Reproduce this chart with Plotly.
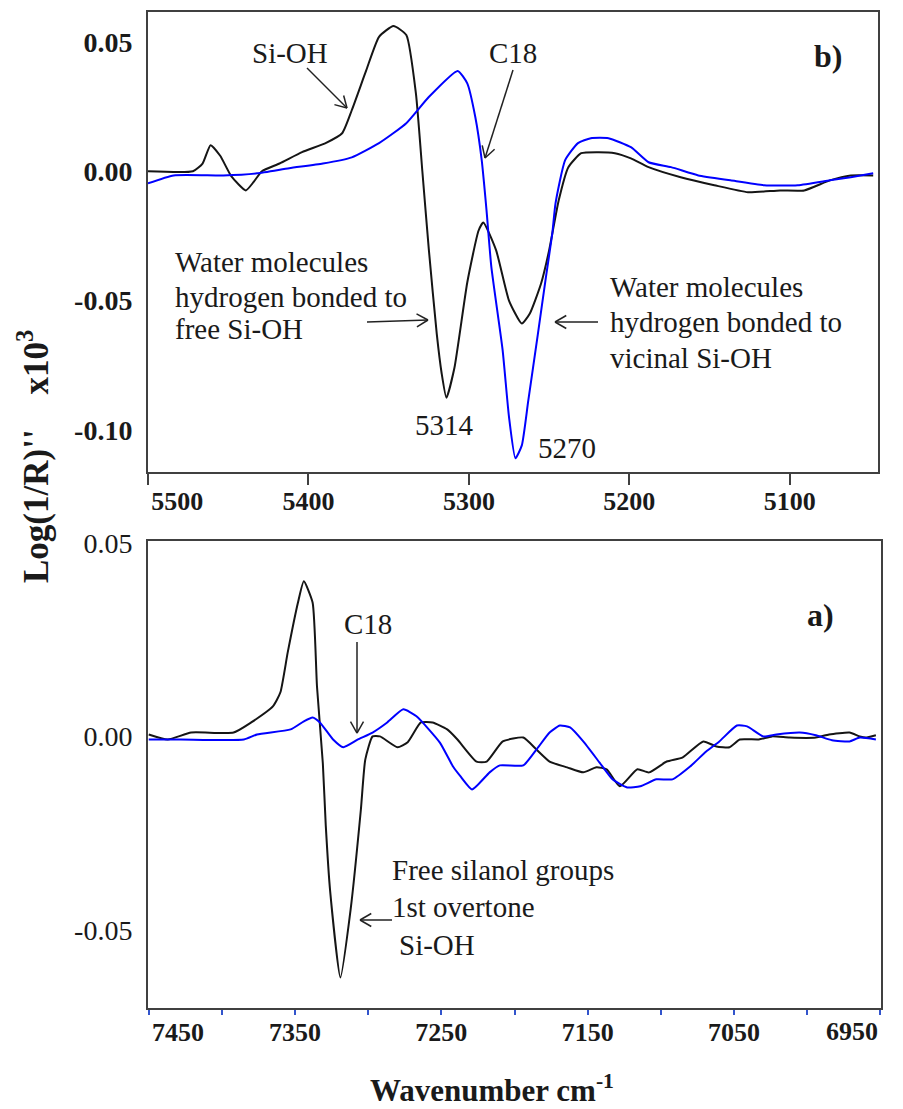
import math
import plotly.graph_objects as go

W, H = 903, 1109

# ---------------- Panel b) (top): 5500-5045 cm-1 ----------------
b_wn_black = [5500, 5472, 5466, 5461, 5455, 5448, 5439, 5434, 5429, 5418, 5404, 5389, 5379,
              5373, 5364, 5356, 5347, 5339, 5333, 5329, 5325, 5320, 5317, 5314, 5309, 5301,
              5294, 5291, 5283, 5275, 5267, 5262, 5255, 5250, 5244, 5238, 5230, 5219, 5209,
              5199, 5188, 5168, 5147, 5126, 5106, 5091, 5075, 5062, 5048]
b_black = [0.000, 0.000, 0.003, 0.0101, 0.006, -0.002, -0.0074, -0.004, 0.000, 0.003, 0.0074,
           0.011, 0.0147, 0.0236, 0.039, 0.052, 0.0562, 0.0527, 0.030, 0.000, -0.030, -0.063,
           -0.078, -0.0876, -0.076, -0.043, -0.023, -0.0198, -0.0306, -0.050, -0.0589, -0.055,
           -0.0434, -0.0306, -0.0112, 0.0016, 0.007, 0.0074, 0.007, 0.005, 0.0016, -0.0023,
           -0.0054, -0.0081, -0.0074, -0.0074, -0.0035, -0.0016, -0.0016]

b_wn_blue = [5500, 5484, 5453, 5432, 5412, 5391, 5373, 5356, 5339, 5325, 5307, 5301, 5296,
             5292, 5289, 5286, 5279, 5275, 5271, 5267, 5263, 5257, 5252, 5248, 5246, 5240,
             5232, 5224, 5213, 5199, 5188, 5174, 5157, 5137, 5116, 5095, 5075, 5062, 5048]
b_blue = [-0.0047, -0.0016, -0.0016, -0.0008, 0.0012, 0.003, 0.0054, 0.0109, 0.0186, 0.0287,
          0.0388, 0.034, 0.021, 0.0043, -0.0151, -0.037, -0.069, -0.095, -0.111, -0.106,
          -0.0888, -0.063, -0.041, -0.024, -0.0124, 0.0043, 0.0109, 0.0128, 0.0128, 0.0093,
          0.0035, 0.0016, -0.0016, -0.0035, -0.0054, -0.0054, -0.0035, -0.0023, -0.0008]

b_xticks = [5500, 5400, 5300, 5200, 5100]
b_xticktext = ["5500", "5400", "5300", "5200", "5100"]
b_yticks = [0.05, 0.0, -0.05, -0.10]
b_yticktext = ["0.05", "0.00", "-0.05", "-0.10"]

# ---------------- Panel a) (bottom): 7450-6950 cm-1 ----------------
a_wn_black = [7450, 7437, 7421, 7392, 7380, 7365, 7360, 7355, 7348, 7344, 7338, 7335, 7331,
              7329, 7326, 7319, 7312, 7305, 7302, 7297, 7292, 7280, 7273, 7264, 7256, 7246,
              7239, 7226, 7219, 7208, 7194, 7185, 7176, 7164, 7153, 7144, 7137, 7128, 7116,
              7108, 7096, 7085, 7071, 7062, 7053, 7046, 7033, 7024, 7012, 6994, 6985, 6971,
              6964, 6960, 6953]
a_black = [0.0005, -0.0008, 0.001, 0.001, 0.0036, 0.0078, 0.0114, 0.0217, 0.0346, 0.0401,
           0.0346, 0.0129, -0.007, -0.023, -0.040, -0.0623, -0.0447, -0.0189, -0.006, 0.000,
           0.000, -0.0028, -0.0015, 0.0036, 0.0036, 0.0018, -0.0008, -0.0065, -0.0065, -0.0013,
           -0.0003, -0.0034, -0.0065, -0.008, -0.0093, -0.008, -0.0085, -0.0129, -0.0085,
           -0.0093, -0.0065, -0.0054, -0.0013, -0.0026, -0.0028, -0.0008, -0.0008, 0.000,
           -0.0003, -0.0003, 0.0005, 0.001, 0.000, -0.0003, 0.0003]

a_wn_blue = [7450, 7428, 7385, 7376, 7353, 7344, 7338, 7333, 7324, 7317, 7307, 7297, 7287,
             7276, 7267, 7251, 7242, 7237, 7229, 7217, 7210, 7194, 7185, 7176, 7169, 7162,
             7153, 7142, 7133, 7123, 7114, 7103, 7092, 7080, 7069, 7060, 7048, 7041, 7030,
             7021, 7005, 6994, 6983, 6971, 6964, 6953]
a_blue = [-0.0008, -0.0008, -0.0008, 0.0005, 0.0018, 0.0039, 0.0049, 0.0036, -0.0008, -0.0028,
          -0.0008, 0.001, 0.0036, 0.007, 0.0052, -0.0016, -0.0078, -0.0103, -0.0137, -0.0093,
          -0.0075, -0.0075, -0.0034, 0.001, 0.0028, 0.0023, -0.0013, -0.0067, -0.0111, -0.0132,
          -0.0129, -0.0111, -0.0111, -0.0078, -0.0039, -0.0013, 0.0028, 0.0026, 0.000, 0.0005,
          0.001, 0.0003, -0.001, -0.0013, -0.0003, -0.0008]

a_xticks = [7450, 7350, 7250, 7150, 7050, 6950]
a_xticktext = ["7450", "7350", "7250", "7150", "7050", "6950"]
a_yticks = [0.05, 0.0, -0.05]
a_yticktext = ["0.05", "0.00", "-0.05"]

FONT = "Liberation Serif"
TXT = "#1a1a1a"
BLACK = "#151515"
BLUE = "#0000ff"
FRAME = "#404040"
NB = "\u00a0"


def px(x):
    return x / W


def py(y):
    return 1 - y / H


fig = go.Figure()

line_kw = dict(width=2, shape="spline", smoothing=0.5)
fig.add_trace(go.Scatter(x=b_wn_black, y=b_black, mode="lines", xaxis="x", yaxis="y",
                         line=dict(color=BLACK, **line_kw), showlegend=False))
fig.add_trace(go.Scatter(x=b_wn_blue, y=b_blue, mode="lines", xaxis="x", yaxis="y",
                         line=dict(color=BLUE, **line_kw), showlegend=False))
fig.add_trace(go.Scatter(x=a_wn_black, y=a_black, mode="lines", xaxis="x2", yaxis="y2",
                         line=dict(color=BLACK, **line_kw), showlegend=False))
fig.add_trace(go.Scatter(x=a_wn_blue, y=a_blue, mode="lines", xaxis="x2", yaxis="y2",
                         line=dict(color=BLUE, **line_kw), showlegend=False))

axis_common = dict(showline=True, mirror=True, linecolor=FRAME, linewidth=2,
                   showgrid=False, zeroline=False, automargin=False)

# first label nudged inside the frame (as in the original); last bottom label
# is drawn right-aligned at its tick so it stays inside the page
b_labels = [NB * 9 + b_xticktext[0]] + b_xticktext[1:]
a_labels = [NB * 9 + a_xticktext[0]] + a_xticktext[1:-1] + [""]

fig.update_layout(
    width=W, height=H, autosize=False,
    margin=dict(l=0, r=0, t=0, b=0, pad=0),
    paper_bgcolor="white", plot_bgcolor="white",
    font=dict(family=FONT, color=TXT),
    xaxis=dict(domain=[px(148), px(878)], range=[5500, 5045], anchor="y",
               tickvals=b_xticks, ticktext=b_labels,
               ticks="outside", ticklen=11, tickwidth=2, tickcolor=FRAME,
               ticklabelstandoff=-6, ticklabeloverflow="allow",
               tickfont=dict(family=FONT, size=26, color=TXT, weight="bold"),
               **axis_common),
    yaxis=dict(domain=[py(472), py(12)], range=[-0.1163, 0.0616], anchor="x",
               tickvals=b_yticks, ticktext=b_yticktext, ticks="", ticklabelstandoff=8,
               tickfont=dict(family=FONT, size=28, color=TXT, weight="bold"),
               **axis_common),
    xaxis2=dict(domain=[px(148), px(881)], range=[7450.5, 6949.5], anchor="y2",
                tickvals=a_xticks, ticktext=a_labels,
                ticks="outside", ticklen=5, tickwidth=2, tickcolor="#3355cc",
                minor=dict(dtick=50, ticks="outside", ticklen=5, tickwidth=2, tickcolor="#3355cc"),
                ticklabelstandoff=-5, ticklabeloverflow="allow",
                tickfont=dict(family=FONT, size=26, color=TXT, weight="bold"),
                **axis_common),
    yaxis2=dict(domain=[py(1008), py(541)], range=[-0.0702, 0.0505], anchor="x2",
                tickvals=a_yticks, ticktext=a_yticktext, ticks="", ticklabelstandoff=8,
                tickfont=dict(family=FONT, size=28, color=TXT),
                **axis_common),
)

annotations = []
shapes = []


def text(s, x, y, size=29, xanchor="center", bold=False):
    annotations.append(dict(text=s, x=px(x), y=py(y), xref="paper", yref="paper",
                            xanchor=xanchor, yanchor="middle", showarrow=False,
                            font=dict(family=FONT, size=size, color=TXT,
                                      weight="bold" if bold else "normal")))


def seg(x0, y0, x1, y1):
    shapes.append(dict(type="line", xref="paper", yref="paper",
                       x0=px(x0), y0=py(y0), x1=px(x1), y1=py(y1),
                       line=dict(color="#222222", width=1.5)))


def arrow(tail, head, hl=13, ang=30):
    seg(tail[0], tail[1], head[0], head[1])
    dx, dy = tail[0] - head[0], tail[1] - head[1]
    base = math.atan2(dy, dx)
    for s in (-1, 1):
        a = base + s * math.radians(ang)
        seg(head[0], head[1], head[0] + hl * math.cos(a), head[1] + hl * math.sin(a))


# last bottom tick label, right-aligned on its tick
annotations.append(dict(text=a_xticktext[-1], x=a_xticks[-1], xref="x2", y=py(1031), yref="paper",
                        xanchor="right", yanchor="middle", showarrow=False,
                        font=dict(family=FONT, size=26, color=TXT, weight="bold")))

# panel b annotations
text("Si-OH", 290, 53)
text("C18", 513, 53)
text("b)", 828, 56, size=32, bold=True)
for s, y in zip(["Water molecules", "hydrogen bonded to", "free Si-OH"], [262, 297, 329]):
    text(s, 173, y, xanchor="left")
for s, y in zip(["Water molecules", "hydrogen bonded to", "vicinal Si-OH"], [287, 322, 358]):
    text(s, 608, y, xanchor="left")
text("5314", 444, 425)
text("5270", 567, 448)
arrow((307, 68), (347, 108))
arrow((513, 70), (485, 158))
arrow((367, 322), (428, 320))
arrow((598, 322), (555, 322))

# panel a annotations
text("C18", 368, 624)
text("a)", 820, 615, size=32, bold=True)
for s, x, y in zip(["Free silanol groups", "1st overtone", "Si-OH"], [390, 390, 397],
                   [870, 907, 945]):
    text(s, x, y, xanchor="left")
arrow((357, 642), (357, 733))
arrow((392, 920), (360, 920))

# axis titles
text("Log(1/R)''    x10<sup>3</sup>", 33, 457, size=35, bold=True)
annotations[-1]["textangle"] = -90
text("Wavenumber cm<sup>-1</sup>", 492, 1088, size=31, bold=True)

fig.update_layout(annotations=annotations, shapes=shapes)

fig.write_html("out.html")
